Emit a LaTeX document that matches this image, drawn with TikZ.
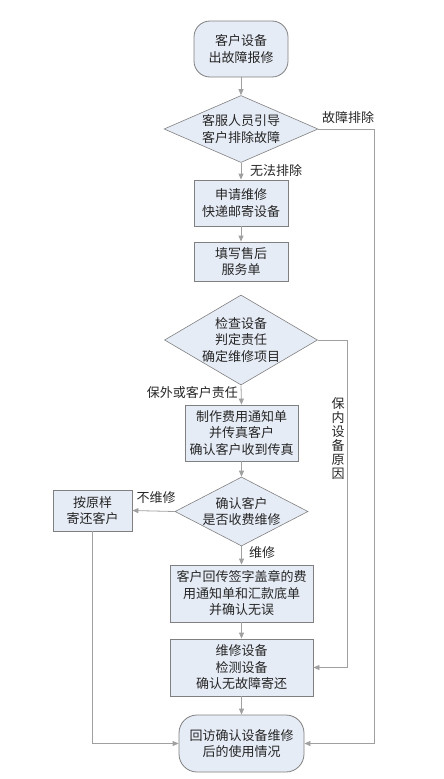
\documentclass[tikz,border=0pt]{standalone}
\usepackage{fontspec}
\newfontfamily\cjk{Noto Sans CJK SC}
\usetikzlibrary{arrows.meta,shapes.geometric}
\definecolor{boxfill}{HTML}{E6ECF6}
\definecolor{boxline}{HTML}{808080}
\definecolor{conn}{HTML}{A0A0A0}
\begin{document}
\begin{tikzpicture}[x=1pt,y=-1pt,
  txt/.style={font=\cjk\fontsize{13}{16.5}\selectfont, align=center, inner sep=0pt, text=black!85},
  lbl/.style={font=\cjk\fontsize{13}{16.5}\selectfont, inner sep=0pt, text=black!85},
  procbox/.style={draw=boxline, fill=boxfill, line width=0.8pt, inner sep=0pt},
  termbox/.style={procbox, rounded corners=16pt},
  decbox/.style={draw=boxline, fill=boxfill, line width=0.6pt, diamond, inner sep=0pt, shape aspect=2},
  conline/.style={draw=conn, line width=0.8pt},
  arr/.style={conline, -{Triangle[length=6pt,width=5pt]}}
]
\path[use as bounding box] (0,0) rectangle (444,779);

% terminal 1
\node[termbox, minimum width=94pt, minimum height=56pt] (n1) at (241,49) {};
\node[txt] (n1t) at (n1) {客户设备\\出故障报修};

% diamond 1
\node[decbox, minimum width=154pt, minimum height=67pt] (d1) at (241,129) {};
\node[txt] (d1t) at (d1) {客服人员引导\\客户排除故障};

% box 2
\node[procbox, minimum width=94pt, minimum height=46pt] (b2) at (241,203) {};
\node[txt] (b2t) at (b2) {申请维修\\快递邮寄设备};

% box 3
\node[procbox, minimum width=94pt, minimum height=39pt] (b3) at (241,261.5) {};
\node[txt] (b3t) at (b3) {填写售后\\服务单};

% diamond 2
\node[decbox, minimum width=153pt, minimum height=90pt] (d2) at (241,340) {};
\node[txt] (d2t) at (d2) {检查设备\\判定责任\\确定维修项目};

% box 4
\node[procbox, minimum width=113pt, minimum height=56pt] (b4) at (241.5,433) {};
\node[txt] (b4t) at (b4) {制作费用通知单\\并传真客户\\确认客户收到传真};

% diamond 3
\node[decbox, minimum width=133pt, minimum height=69pt] (d3) at (241.5,511.5) {};
\node[txt] (d3t) at (d3) {确认客户\\是否收费维修};

% box 5
\node[procbox, minimum width=79pt, minimum height=41pt] (b5) at (92.5,510.5) {};
\node[txt] (b5t) at (b5) {按原样\\寄还客户};

% box 6
\node[procbox, minimum width=143pt, minimum height=57pt] (b6) at (241.5,593.5) {};
\node[txt] (b6t) at (b6) {客户回传签字盖章的费\\用通知单和汇款底单\\并确认无误};

% box 7
\node[procbox, minimum width=143pt, minimum height=57pt] (b7) at (241.5,667.5) {};
\node[txt] (b7t) at (b7) {维修设备\\检测设备\\确认无故障寄还};

% terminal 8
\node[termbox, rounded corners=18pt, minimum width=125pt, minimum height=57pt] (n8) at (241.5,743.5) {};
\node[txt] (n8t) at (n8) {回访确认设备维修\\后的使用情况};

% corner coordinates
\coordinate (c1) at (374,129);
\coordinate (c2) at (374,743.5);
\coordinate (c3) at (347,340);
\coordinate (c4) at (347,667.5);
\coordinate (c5) at (92.5,743.5);

% connectors
\draw[arr] (n1.south) -- (d1.north);
\draw[arr] (d1.south) -- (b2.north);
\draw[arr] (b2.south) -- (b3.north);
\draw[arr] (d2.south) -- (b4.north);
\draw[arr] (b4.south) -- (d3.north);
\draw[arr] (d3.west) -- (b5.east);
\draw[arr] (d3.south) -- (b6.north);
\draw[arr] (b6.south) -- (b7.north);
\draw[arr] (b7.south) -- (n8.north);
\draw[arr] (d1.east) -- (c1) -- (c2) -- (n8.east);
\draw[arr] (d2.east) -- (c3) -- (c4) -- (b7.east);
\draw[arr] (b5.south) -- (c5) -- (n8.west);

% labels
\node[lbl, anchor=west] (l1) at (250,171) {无法排除};
\node[lbl] (l2) at (348,118) {故障排除};
\node[lbl, anchor=east] (l3) at (238,393) {保外或客户责任};
\node[lbl, align=center, font=\cjk\fontsize{13}{14}\selectfont] (l4) at (338,439) {保\\内\\设\\备\\原\\因};
\node[lbl] (l5) at (156,498) {不维修};
\node[lbl, anchor=west] (l6) at (249,553) {维修};
\end{tikzpicture}
\end{document}
